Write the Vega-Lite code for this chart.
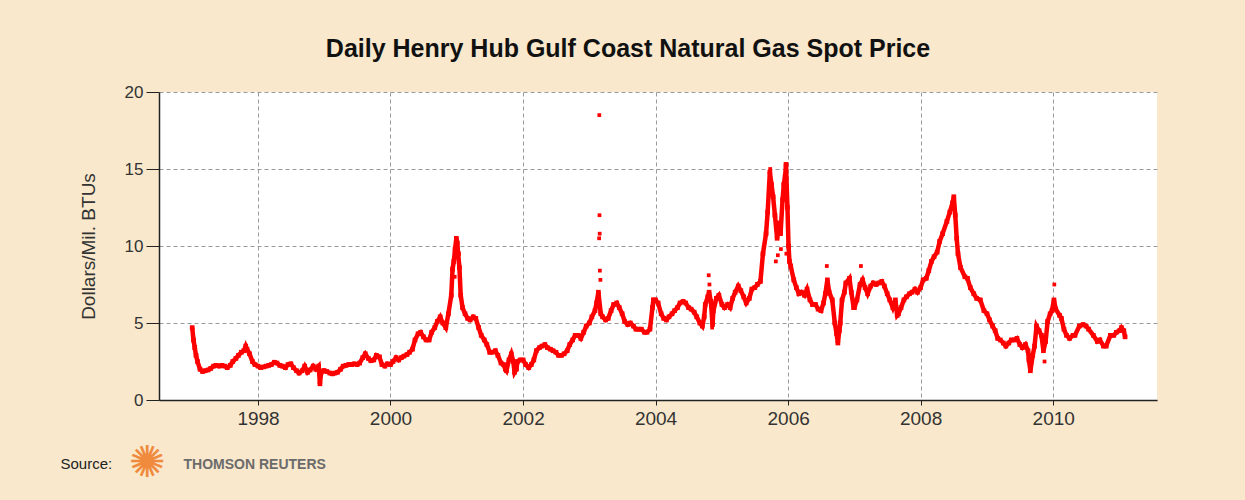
{
  "$schema": "https://vega.github.io/schema/vega-lite/v6.json",
  "autosize": {"type": "none"},
  "width": 998,
  "height": 308,
  "padding": {"left": 159, "top": 92, "right": 88, "bottom": 100},
  "background": "#f9e8cb",
  "title": {
    "text": "Daily Henry Hub Gulf Coast Natural Gas Spot Price",
    "font": "Liberation Sans",
    "fontSize": 25,
    "fontWeight": "bold",
    "color": "#111111",
    "anchor": "middle",
    "dx": -30,
    "baseline": "alphabetic",
    "offset": 1
  },
  "datasets": {
    "main": [
      {"d":"1997-01-03","p":4.7},{"d":"1997-01-10","p":3.9},{"d":"1997-01-17","p":3.4},{"d":"1997-01-24","p":2.9},
      {"d":"1997-02-01","p":2.5},{"d":"1997-02-15","p":2.0},{"d":"1997-03-01","p":1.85},{"d":"1997-03-15","p":1.9},
      {"d":"1997-04-01","p":1.95},{"d":"1997-04-15","p":2.05},{"d":"1997-05-01","p":2.2},{"d":"1997-05-15","p":2.25},
      {"d":"1997-06-01","p":2.2},{"d":"1997-06-15","p":2.25},{"d":"1997-07-01","p":2.2},{"d":"1997-07-15","p":2.1},
      {"d":"1997-08-01","p":2.25},{"d":"1997-08-15","p":2.5},{"d":"1997-09-01","p":2.7},{"d":"1997-09-15","p":2.9},
      {"d":"1997-10-01","p":3.1},{"d":"1997-10-15","p":3.2},{"d":"1997-10-25","p":3.5},{"d":"1997-11-01","p":3.3},
      {"d":"1997-11-15","p":3.0},{"d":"1997-12-01","p":2.5},{"d":"1997-12-15","p":2.3},
      {"d":"1998-01-01","p":2.2},{"d":"1998-01-15","p":2.1},{"d":"1998-02-01","p":2.15},{"d":"1998-02-15","p":2.2},
      {"d":"1998-03-01","p":2.25},{"d":"1998-03-15","p":2.3},{"d":"1998-04-01","p":2.45},{"d":"1998-04-15","p":2.4},
      {"d":"1998-05-01","p":2.25},{"d":"1998-05-15","p":2.2},{"d":"1998-06-01","p":2.1},{"d":"1998-06-15","p":2.3},
      {"d":"1998-07-01","p":2.35},{"d":"1998-07-15","p":2.1},{"d":"1998-08-01","p":1.9},{"d":"1998-08-15","p":1.75},
      {"d":"1998-09-01","p":1.9},{"d":"1998-09-15","p":2.2},{"d":"1998-10-01","p":1.8},{"d":"1998-10-15","p":1.95},
      {"d":"1998-11-01","p":2.2},{"d":"1998-11-15","p":2.0},{"d":"1998-12-01","p":2.2},{"d":"1998-12-08","p":1.05},
      {"d":"1998-12-15","p":1.8},{"d":"1998-12-28","p":1.9},
      {"d":"1999-01-01","p":1.9},{"d":"1999-01-15","p":1.85},{"d":"1999-02-01","p":1.75},{"d":"1999-02-15","p":1.7},
      {"d":"1999-03-01","p":1.75},{"d":"1999-03-15","p":1.8},{"d":"1999-04-01","p":2.0},{"d":"1999-04-15","p":2.2},
      {"d":"1999-05-01","p":2.25},{"d":"1999-05-15","p":2.3},{"d":"1999-06-01","p":2.3},{"d":"1999-06-15","p":2.35},
      {"d":"1999-07-01","p":2.3},{"d":"1999-07-15","p":2.4},{"d":"1999-08-01","p":2.75},{"d":"1999-08-15","p":3.0},
      {"d":"1999-09-01","p":2.7},{"d":"1999-09-15","p":2.55},{"d":"1999-10-01","p":2.6},{"d":"1999-10-15","p":2.9},
      {"d":"1999-11-01","p":2.8},{"d":"1999-11-15","p":2.3},{"d":"1999-12-01","p":2.2},{"d":"1999-12-15","p":2.35},
      {"d":"2000-01-01","p":2.3},{"d":"2000-01-15","p":2.5},{"d":"2000-02-01","p":2.75},{"d":"2000-02-15","p":2.6},
      {"d":"2000-03-01","p":2.75},{"d":"2000-03-15","p":2.85},{"d":"2000-04-01","p":2.95},{"d":"2000-04-15","p":3.1},
      {"d":"2000-05-01","p":3.3},{"d":"2000-05-15","p":3.9},{"d":"2000-06-01","p":4.3},{"d":"2000-06-15","p":4.4},
      {"d":"2000-07-01","p":4.1},{"d":"2000-07-15","p":3.9},{"d":"2000-08-01","p":3.9},{"d":"2000-08-15","p":4.4},
      {"d":"2000-09-01","p":4.7},{"d":"2000-09-15","p":5.1},{"d":"2000-10-01","p":5.4},{"d":"2000-10-15","p":5.0},
      {"d":"2000-11-01","p":4.7},{"d":"2000-11-15","p":5.6},{"d":"2000-12-01","p":6.8},{"d":"2000-12-08","p":8.5},
      {"d":"2000-12-15","p":9.0},{"d":"2000-12-22","p":9.8},{"d":"2000-12-29","p":10.5},
      {"d":"2001-01-03","p":10.2},{"d":"2001-01-08","p":9.5},{"d":"2001-01-15","p":8.6},{"d":"2001-01-22","p":6.8},
      {"d":"2001-02-01","p":6.0},{"d":"2001-02-15","p":5.6},{"d":"2001-03-01","p":5.3},{"d":"2001-03-15","p":5.2},
      {"d":"2001-04-01","p":5.4},{"d":"2001-04-15","p":5.3},{"d":"2001-05-01","p":4.7},{"d":"2001-05-15","p":4.2},
      {"d":"2001-06-01","p":3.9},{"d":"2001-06-15","p":3.6},{"d":"2001-07-01","p":3.1},{"d":"2001-07-15","p":3.1},
      {"d":"2001-08-01","p":3.2},{"d":"2001-08-15","p":2.9},{"d":"2001-09-01","p":2.4},{"d":"2001-09-15","p":2.3},
      {"d":"2001-09-25","p":2.0},{"d":"2001-10-01","p":1.9},{"d":"2001-10-15","p":2.6},{"d":"2001-10-28","p":3.0},
      {"d":"2001-11-08","p":2.5},{"d":"2001-11-15","p":1.8},{"d":"2001-11-25","p":2.0},{"d":"2001-12-01","p":2.5},
      {"d":"2001-12-15","p":2.6},
      {"d":"2002-01-01","p":2.6},{"d":"2002-01-15","p":2.3},{"d":"2002-02-01","p":2.1},{"d":"2002-02-15","p":2.3},
      {"d":"2002-03-01","p":2.6},{"d":"2002-03-15","p":3.2},{"d":"2002-04-01","p":3.4},{"d":"2002-04-15","p":3.5},
      {"d":"2002-05-01","p":3.6},{"d":"2002-05-15","p":3.4},{"d":"2002-06-01","p":3.3},{"d":"2002-06-15","p":3.2},
      {"d":"2002-07-01","p":3.1},{"d":"2002-07-15","p":2.9},{"d":"2002-08-01","p":2.9},{"d":"2002-08-15","p":3.0},
      {"d":"2002-09-01","p":3.2},{"d":"2002-09-15","p":3.6},{"d":"2002-10-01","p":3.9},{"d":"2002-10-15","p":4.2},
      {"d":"2002-11-01","p":4.2},{"d":"2002-11-15","p":4.0},{"d":"2002-12-01","p":4.4},{"d":"2002-12-15","p":4.8},
      {"d":"2003-01-01","p":5.0},{"d":"2003-01-15","p":5.4},{"d":"2003-02-01","p":5.8},{"d":"2003-02-10","p":6.3},
      {"d":"2003-02-20","p":7.0},{"d":"2003-03-05","p":5.6},{"d":"2003-03-15","p":5.4},{"d":"2003-04-01","p":5.2},
      {"d":"2003-04-15","p":5.3},{"d":"2003-05-01","p":5.8},{"d":"2003-05-15","p":6.2},{"d":"2003-06-01","p":6.3},
      {"d":"2003-06-15","p":6.0},{"d":"2003-07-01","p":5.6},{"d":"2003-07-15","p":5.1},{"d":"2003-08-01","p":4.9},
      {"d":"2003-08-15","p":5.0},{"d":"2003-09-01","p":4.8},{"d":"2003-09-15","p":4.6},{"d":"2003-10-01","p":4.6},
      {"d":"2003-10-15","p":4.6},{"d":"2003-11-01","p":4.4},{"d":"2003-11-15","p":4.4},{"d":"2003-12-01","p":4.6},
      {"d":"2003-12-15","p":6.0},{"d":"2003-12-20","p":6.5},
      {"d":"2004-01-01","p":6.5},{"d":"2004-01-15","p":6.3},{"d":"2004-02-01","p":5.6},{"d":"2004-02-15","p":5.3},
      {"d":"2004-03-01","p":5.2},{"d":"2004-03-15","p":5.4},{"d":"2004-04-01","p":5.6},{"d":"2004-04-15","p":5.8},
      {"d":"2004-05-01","p":6.0},{"d":"2004-05-15","p":6.3},{"d":"2004-06-01","p":6.4},{"d":"2004-06-15","p":6.3},
      {"d":"2004-07-01","p":6.0},{"d":"2004-07-15","p":5.9},{"d":"2004-08-01","p":5.7},{"d":"2004-08-15","p":5.4},
      {"d":"2004-09-01","p":5.0},{"d":"2004-09-15","p":4.8},{"d":"2004-09-25","p":5.4},{"d":"2004-10-01","p":6.2},
      {"d":"2004-10-15","p":6.7},{"d":"2004-10-22","p":7.0},{"d":"2004-11-01","p":6.4},{"d":"2004-11-10","p":4.9},
      {"d":"2004-11-15","p":5.8},{"d":"2004-12-01","p":6.6},{"d":"2004-12-15","p":6.8},
      {"d":"2005-01-01","p":6.2},{"d":"2005-01-15","p":6.0},{"d":"2005-02-01","p":6.2},{"d":"2005-02-15","p":6.0},
      {"d":"2005-03-01","p":6.6},{"d":"2005-03-15","p":7.0},{"d":"2005-04-01","p":7.4},{"d":"2005-04-15","p":7.1},
      {"d":"2005-05-01","p":6.7},{"d":"2005-05-15","p":6.3},{"d":"2005-06-01","p":6.6},{"d":"2005-06-15","p":7.2},
      {"d":"2005-07-01","p":7.3},{"d":"2005-07-15","p":7.5},{"d":"2005-08-01","p":7.7},{"d":"2005-08-15","p":9.5},
      {"d":"2005-09-01","p":10.8},{"d":"2005-09-10","p":12.2},{"d":"2005-09-22","p":14.8},{"d":"2005-10-01","p":14.0},
      {"d":"2005-10-10","p":13.2},{"d":"2005-10-20","p":12.0},{"d":"2005-11-01","p":10.5},{"d":"2005-11-10","p":11.5},
      {"d":"2005-11-20","p":10.8},{"d":"2005-12-01","p":13.0},{"d":"2005-12-08","p":14.0},{"d":"2005-12-15","p":14.5},
      {"d":"2005-12-20","p":15.3},{"d":"2005-12-28","p":12.5},
      {"d":"2006-01-03","p":10.0},{"d":"2006-01-08","p":9.0},{"d":"2006-01-15","p":8.7},{"d":"2006-02-01","p":7.8},
      {"d":"2006-02-15","p":7.3},{"d":"2006-03-01","p":6.9},{"d":"2006-03-15","p":7.0},{"d":"2006-04-01","p":6.8},
      {"d":"2006-04-15","p":7.2},{"d":"2006-05-01","p":6.5},{"d":"2006-05-15","p":6.2},{"d":"2006-06-01","p":6.2},
      {"d":"2006-06-15","p":5.9},{"d":"2006-07-01","p":5.8},{"d":"2006-07-15","p":6.3},{"d":"2006-07-25","p":6.9},
      {"d":"2006-08-05","p":7.8},{"d":"2006-08-15","p":7.0},{"d":"2006-09-01","p":6.5},{"d":"2006-09-15","p":5.0},
      {"d":"2006-09-25","p":4.3},{"d":"2006-10-02","p":3.7},{"d":"2006-10-10","p":4.5},{"d":"2006-10-15","p":5.0},
      {"d":"2006-10-25","p":6.5},{"d":"2006-11-07","p":7.0},{"d":"2006-11-15","p":7.6},{"d":"2006-12-05","p":7.9},
      {"d":"2006-12-15","p":7.0},{"d":"2006-12-28","p":6.0},
      {"d":"2007-01-01","p":6.0},{"d":"2007-01-15","p":6.5},{"d":"2007-02-01","p":7.5},{"d":"2007-02-15","p":7.8},
      {"d":"2007-03-01","p":7.3},{"d":"2007-03-15","p":6.9},{"d":"2007-04-01","p":7.4},{"d":"2007-04-15","p":7.6},
      {"d":"2007-05-01","p":7.5},{"d":"2007-05-15","p":7.6},{"d":"2007-06-01","p":7.7},{"d":"2007-06-15","p":7.4},
      {"d":"2007-07-01","p":6.9},{"d":"2007-07-15","p":6.5},{"d":"2007-08-01","p":6.0},{"d":"2007-08-15","p":6.5},
      {"d":"2007-08-25","p":5.5},{"d":"2007-09-01","p":5.6},{"d":"2007-09-15","p":6.0},{"d":"2007-10-01","p":6.5},
      {"d":"2007-10-15","p":6.7},{"d":"2007-11-01","p":6.9},{"d":"2007-11-15","p":7.0},{"d":"2007-12-01","p":7.2},
      {"d":"2007-12-15","p":7.0},
      {"d":"2008-01-01","p":7.3},{"d":"2008-01-15","p":7.8},{"d":"2008-02-01","p":7.9},{"d":"2008-02-15","p":8.4},
      {"d":"2008-03-01","p":9.0},{"d":"2008-03-15","p":9.3},{"d":"2008-04-01","p":9.6},{"d":"2008-04-15","p":10.3},
      {"d":"2008-05-01","p":10.8},{"d":"2008-05-25","p":11.6},{"d":"2008-06-10","p":12.2},{"d":"2008-06-25","p":12.8},
      {"d":"2008-07-02","p":13.2},{"d":"2008-07-10","p":12.0},{"d":"2008-07-18","p":10.5},{"d":"2008-07-25","p":9.5},
      {"d":"2008-08-08","p":8.6},{"d":"2008-09-01","p":8.0},{"d":"2008-09-15","p":7.9},{"d":"2008-10-01","p":7.3},
      {"d":"2008-10-20","p":6.9},{"d":"2008-11-05","p":6.6},{"d":"2008-11-25","p":6.5},{"d":"2008-12-15","p":5.8},
      {"d":"2009-01-01","p":5.6},{"d":"2009-01-15","p":5.2},{"d":"2009-02-01","p":4.8},{"d":"2009-02-15","p":4.5},
      {"d":"2009-03-01","p":4.0},{"d":"2009-03-15","p":3.9},{"d":"2009-04-01","p":3.7},{"d":"2009-04-15","p":3.5},
      {"d":"2009-05-01","p":3.7},{"d":"2009-05-15","p":3.9},{"d":"2009-06-01","p":3.9},{"d":"2009-06-15","p":4.0},
      {"d":"2009-07-01","p":3.6},{"d":"2009-07-15","p":3.4},{"d":"2009-08-01","p":3.6},{"d":"2009-08-15","p":3.2},
      {"d":"2009-08-20","p":2.6},{"d":"2009-08-28","p":1.9},{"d":"2009-09-10","p":2.9},{"d":"2009-09-20","p":3.5},
      {"d":"2009-10-01","p":4.8},{"d":"2009-10-15","p":4.5},{"d":"2009-10-28","p":4.2},{"d":"2009-11-08","p":3.2},
      {"d":"2009-11-20","p":3.8},{"d":"2009-12-01","p":5.1},{"d":"2009-12-15","p":5.6},{"d":"2009-12-25","p":5.8},
      {"d":"2010-01-05","p":6.5},{"d":"2010-01-15","p":5.9},{"d":"2010-02-05","p":5.5},{"d":"2010-02-15","p":5.3},
      {"d":"2010-03-01","p":4.6},{"d":"2010-03-15","p":4.2},{"d":"2010-04-01","p":4.0},{"d":"2010-04-20","p":4.2},
      {"d":"2010-05-01","p":4.2},{"d":"2010-05-25","p":4.8},{"d":"2010-06-15","p":4.9},{"d":"2010-07-01","p":4.8},
      {"d":"2010-07-15","p":4.6},{"d":"2010-08-10","p":4.2},{"d":"2010-09-01","p":3.8},{"d":"2010-09-15","p":3.9},
      {"d":"2010-10-05","p":3.5},{"d":"2010-10-20","p":3.5},{"d":"2010-11-12","p":4.2},{"d":"2010-12-01","p":4.2},
      {"d":"2010-12-15","p":4.4},
      {"d":"2011-01-01","p":4.5},{"d":"2011-01-12","p":4.7},{"d":"2011-01-25","p":4.5},{"d":"2011-02-01","p":4.1}
    ],
    "spikes": [
      {"d":"2000-12-20","p":8.0},{"d":"2001-01-12","p":9.5},
      {"d":"2003-02-24","p":10.5},{"d":"2003-02-25","p":18.5},{"d":"2003-02-26","p":12.0},{"d":"2003-02-27","p":10.8},
      {"d":"2003-02-28","p":8.4},{"d":"2003-03-03","p":7.8},
      {"d":"2004-10-20","p":8.1},{"d":"2004-10-24","p":7.5},{"d":"2004-11-08","p":4.7},
      {"d":"2005-09-24","p":15.0},{"d":"2005-10-25","p":9.0},{"d":"2005-11-05","p":9.4},{"d":"2005-11-22","p":9.8},
      {"d":"2005-12-22","p":9.5},
      {"d":"2006-08-02","p":8.7},{"d":"2007-02-06","p":8.7},
      {"d":"2009-11-14","p":2.5},{"d":"2010-01-07","p":7.5}
    ]
  },
  "encoding": {
    "x": {
      "field": "d",
      "type": "temporal",
      "scale": {"type": "utc", "domain": [{"year": 1996, "month": 7, "date": 4, "utc": true}, {"year": 2011, "month": 7, "date": 27, "utc": true}]}
    },
    "y": {
      "field": "p",
      "type": "quantitative",
      "scale": {"domain": [0, 20], "nice": false},
      "axis": {
        "title": "Dollars/Mil. BTUs",
        "values": [0, 5, 10, 15, 20],
        "grid": true,
        "gridDash": [4, 3],
        "gridColor": "#9a9a9a",
        "tickSize": 13,
        "tickColor": "#222222",
        "domainColor": "#222222",
        "domainWidth": 1.5,
        "labelFontSize": 17,
        "labelColor": "#333333",
        "labelPadding": 3,
        "titleFontSize": 19,
        "titleFontWeight": "normal",
        "titleColor": "#333333",
        "titlePadding": 26
      }
    }
  },
  "layer": [
    {
      "data": {"name": "main"},
      "mark": {"type": "line", "color": "#ff0000", "strokeWidth": 4.5},
      "encoding": {
        "x": {
          "field": "d",
          "type": "temporal",
          "axis": {
            "orient": "bottom",
            "values": [{"year": 1998, "utc": true}, {"year": 2000, "utc": true}, {"year": 2002, "utc": true}, {"year": 2004, "utc": true}, {"year": 2006, "utc": true}, {"year": 2008, "utc": true}, {"year": 2010, "utc": true}],
            "format": "%Y",
            "grid": true,
            "gridDash": [4, 3],
            "gridColor": "#9a9a9a",
            "tickSize": 5,
            "tickColor": "#222222",
            "domainColor": "#222222",
            "domainWidth": 1.5,
            "labelFontSize": 19,
            "labelColor": "#333333",
            "labelPadding": 4,
            "title": "Source:",
            "titleX": -99,
            "titleY": 68,
            "titleAlign": "left",
            "titleBaseline": "alphabetic",
            "titleFontSize": 15,
            "titleFontWeight": "normal",
            "titleColor": "#222222"
          }
        }
      }
    },
    {
      "data": {"name": "main"},
      "mark": {"type": "point", "shape": "square", "filled": true, "color": "#ff0000", "size": 22, "opacity": 1},
      "encoding": {
        "x": {
          "field": "d",
          "type": "temporal",
          "axis": {
            "orient": "bottom",
            "labels": false, "ticks": false, "domain": false, "grid": false,
            "title": "THOMSON REUTERS",
            "titleX": 24,
            "titleY": 68,
            "titleAlign": "left",
            "titleBaseline": "alphabetic",
            "titleFontSize": 14,
            "titleFontWeight": "bold",
            "titleColor": "#6b6b6b"
          }
        }
      }
    },
    {
      "data": {"name": "spikes"},
      "mark": {"type": "point", "shape": "square", "filled": true, "color": "#ff0000", "size": 14, "opacity": 1},
      "encoding": {
        "x": {
          "field": "d",
          "type": "temporal",
          "axis": {
            "orient": "bottom",
            "labels": false, "ticks": false, "domain": false, "grid": false,
            "title": "✺",
            "titleX": -12,
            "titleY": 63,
            "titleAlign": "center",
            "titleBaseline": "middle",
            "titleFont": "DejaVu Sans",
            "titleFontSize": 44,
            "titleFontWeight": "normal",
            "titleColor": "#f08a3c"
          }
        }
      }
    }
  ],
  "resolve": {"axis": {"x": "independent"}},
  "config": {
    "font": "Liberation Sans",
    "view": {"fill": "#ffffff", "stroke": null}
  }
}
